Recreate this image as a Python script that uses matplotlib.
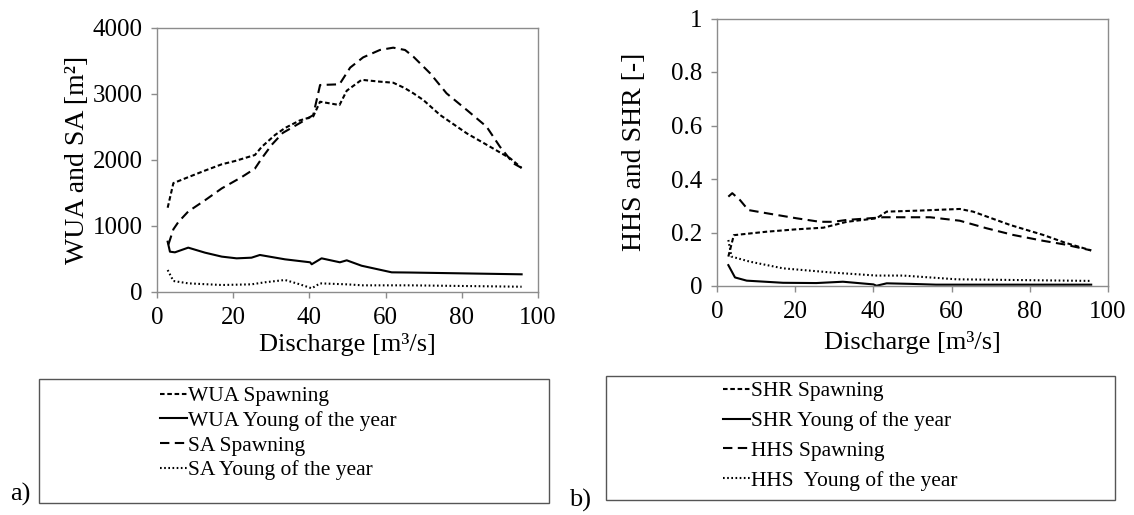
import matplotlib
matplotlib.use("Agg")
import matplotlib.pyplot as plt
from matplotlib.patches import Rectangle
from matplotlib.ticker import FuncFormatter

plt.rcParams['font.family'] = ['Liberation Serif', 'DejaVu Serif']

# ---- a) WUA and SA
q_wua_sp = [2.8, 4.3, 8.2, 12.6, 17, 20.5, 25.7, 27.5, 31, 33.6, 37.5, 41, 42.8, 47.9, 49.8,
            53.7, 58.5, 62, 65, 67.3, 69.9, 74.3, 81.3, 87.4, 92.7, 95.7]
wua_sp = [1277, 1650, 1740, 1840, 1935, 1985, 2076, 2200, 2380, 2485, 2600, 2660, 2883, 2833, 3050,
          3215, 3187, 3171, 3090, 3010, 2909, 2682, 2404, 2202, 2025, 1880]

q_wua_yoy = [2.8, 3.4, 4.7, 8.2, 12.6, 17, 20.9, 24.8, 27, 33.6, 40.2, 40.6, 43.2, 48, 49.8,
             53.7, 61.6, 66.4, 95.7]
wua_yoy = [762, 611, 601, 672, 596, 536, 510, 520, 561, 495, 450, 420, 510, 450, 480,
           398, 298, 295, 268]

q_sa_sp = [3, 4.3, 5.6, 8.2, 12.6, 17, 22.2, 25.7, 27.5, 30.1, 33, 37.5, 41, 42.8, 47.9, 50.7,
           54.1, 58.5, 62, 65.1, 67.3, 71.7, 76, 81.3, 86.5, 90, 93.5, 95.7]
sa_sp = [720, 950, 1060, 1220, 1390, 1570, 1740, 1870, 2025, 2230, 2410, 2560, 2680, 3136, 3147, 3400,
         3555, 3667, 3702, 3667, 3565, 3313, 3010, 2758, 2505, 2202, 1950, 1880]

q_sa_yoy = [2.8, 4.3, 8.2, 17, 24.8, 28.3, 33.6, 37.5, 40.6, 42.8, 49.8, 54, 66.4, 95.7]
sa_yoy = [333, 167, 131, 106, 116, 147, 182, 116, 56, 131, 116, 101, 101, 80]

# ---- b) HHS and SHR
q_shr_sp = [2.9, 4.3, 12.7, 20.4, 27.2, 33.2, 40.8, 43.4, 51.9, 62.1, 65.5, 75, 83.4, 89, 95.7]
shr_sp = [0.11, 0.19, 0.203, 0.212, 0.218, 0.240, 0.253, 0.278, 0.282, 0.288, 0.278, 0.228, 0.191, 0.162, 0.133]

q_shr_yoy = [2.9, 4.6, 7.6, 16.9, 25.4, 32.2, 40, 40.8, 43.4, 49.4, 56, 95.7]
shr_yoy = [0.078, 0.032, 0.020, 0.012, 0.011, 0.016, 0.006, 0.001, 0.010, 0.008, 0.005, 0.005]

q_hhs_sp = [2.9, 3.9, 5.9, 8, 12.7, 20.4, 26.3, 29.7, 33.2, 40.8, 42.5, 54.5, 62.1, 68.9, 75.7, 83.4, 89, 95.7]
hhs_sp = [0.334, 0.347, 0.321, 0.284, 0.272, 0.253, 0.240, 0.240, 0.247, 0.255, 0.257, 0.257, 0.244,
          0.216, 0.191, 0.169, 0.155, 0.133]

q_hhs_yoy = [2.9, 3.7, 8.4, 16.9, 29.7, 40.8, 47.6, 54.5, 61.3, 95.7]
hhs_yoy = [0.172, 0.110, 0.091, 0.066, 0.050, 0.039, 0.039, 0.032, 0.025, 0.019]

labels_a = ["WUA Spawning", "WUA Young of the year", "SA Spawning", "SA Young of the year"]
labels_b = ["SHR Spawning", "SHR Young of the year", "HHS Spawning", "HHS  Young of the year"]

W, H = 1134, 515
fig = plt.figure(figsize=(W / 100, H / 100), dpi=100)

GRAY = '#8c8c8c'
short_dash = dict(color='black', lw=1.5, linestyle=(0, (2.2, 1.3)))
solid = dict(color='black', lw=1.5, linestyle='-')
long_dash = dict(color='black', lw=1.5, linestyle=(0, (4.5, 2.6)))
dotted = dict(color='black', lw=1.5, linestyle=(0, (0.8, 1.2)))


def style_axes(ax):
    for sp in ax.spines.values():
        sp.set_color(GRAY)
        sp.set_linewidth(1.0)
    ax.tick_params(direction='out', length=4.5, width=1.0, color=GRAY, labelsize=18, pad=6)
    ax.set_xlim(0, 100)
    ax.set_xticks([0, 20, 40, 60, 80, 100])


def px_axes(x0, y0, x1, y1):
    return fig.add_axes([x0 / W, 1 - y1 / H, (x1 - x0) / W, (y1 - y0) / H])


# panel a
ax1 = px_axes(157, 28, 538, 292)
style_axes(ax1)
l1, = ax1.plot(q_wua_sp, wua_sp, **short_dash)
l2, = ax1.plot(q_wua_yoy, wua_yoy, **solid)
l3, = ax1.plot(q_sa_sp, sa_sp, **long_dash)
l4, = ax1.plot(q_sa_yoy, sa_yoy, **dotted)
ax1.set_ylim(0, 4000)
ax1.set_yticks([0, 1000, 2000, 3000, 4000])
ax1.set_ylabel('WUA and SA [m²]', fontsize=20)
ax1.yaxis.set_label_coords(-0.175, 0.5)
ax1.set_xlabel('Discharge [m³/s]', fontsize=19)
ax1.xaxis.set_label_coords(0.5, -0.155)

# panel b
ax2 = px_axes(717, 18.5, 1108, 286)
style_axes(ax2)
m1, = ax2.plot(q_shr_sp, shr_sp, **short_dash)
m2, = ax2.plot(q_shr_yoy, shr_yoy, **solid)
m3, = ax2.plot(q_hhs_sp, hhs_sp, **long_dash)
m4, = ax2.plot(q_hhs_yoy, hhs_yoy, **dotted)
ax2.set_ylim(0, 1)
ax2.set_yticks([0, 0.2, 0.4, 0.6, 0.8, 1])
ax2.yaxis.set_major_formatter(FuncFormatter(lambda v, p: '%g' % v))
ax2.set_ylabel('HHS and SHR [-]', fontsize=20)
ax2.yaxis.set_label_coords(-0.18, 0.5)
ax2.set_xlabel('Discharge [m³/s]', fontsize=19)
ax2.xaxis.set_label_coords(0.5, -0.17)


def legend_box(x0, y0, x1, y1, hx, ty, handles, labels, spacing):
    fig.patches.append(Rectangle((x0 / W, 1 - y1 / H), (x1 - x0) / W, (y1 - y0) / H,
                                 transform=fig.transFigure, fill=False,
                                 edgecolor='#555555', lw=1.0))
    fig.legend(handles, labels, loc='upper left', bbox_to_anchor=(hx / W, 1 - ty / H),
               frameon=False, borderpad=0, borderaxespad=0, handlelength=1.25,
               handletextpad=0.05, labelspacing=spacing, fontsize=15.5)


legend_box(39, 379, 549, 503, 160, 386, [l1, l2, l3, l4], labels_a, 0.22)
legend_box(606, 376, 1115, 500, 723, 381, [m1, m2, m3, m4], labels_b, 0.46)

fig.text(20 / W, 1 - 494 / H, 'a)', fontsize=19, ha='center', va='center')
fig.text(580 / W, 1 - 500 / H, 'b)', fontsize=19, ha='center', va='center')

fig.savefig('out.png', dpi=100)
